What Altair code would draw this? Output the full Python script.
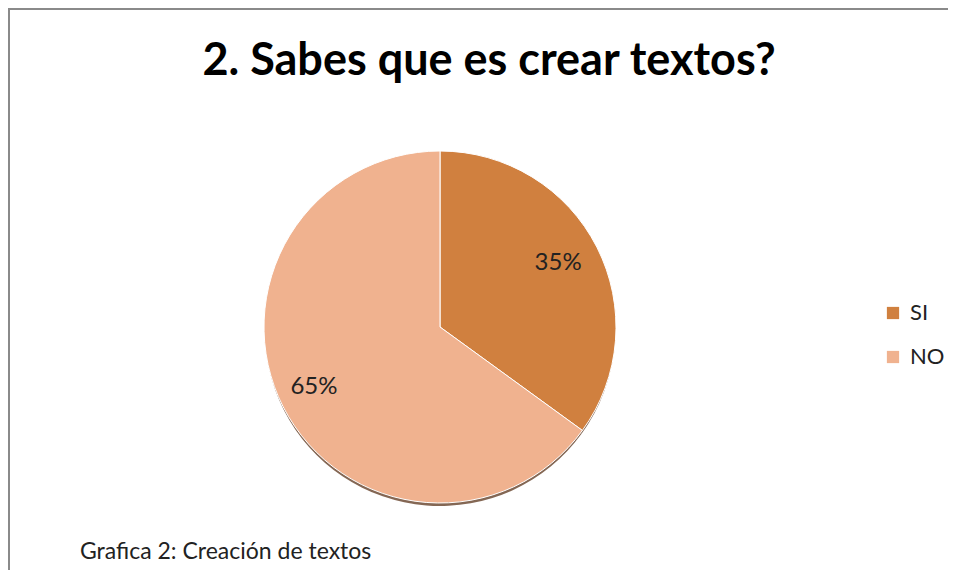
import altair as alt
import pandas as pd

categories = ["SI", "NO"]
values = [35, 65]
colors = ["#D0803F", "#F0B28F"]
title_text = "2. Sabes que es crear textos?"
caption_text = "Grafica 2: Creación de textos"

total = sum(values)
df = pd.DataFrame({
    "cat": categories,
    "val": values,
    "order": list(range(len(categories))),
    "label": [f"{round(v * 100 / total)}%" for v in values],
})

W, H = 940, 562
CX, CY, R = 432, 319, 176

color_scale = alt.Scale(domain=categories, range=colors)

base = alt.Chart(df).encode(
    theta=alt.Theta("val:Q", stack=True),
    order=alt.Order("order:Q"),
)

shadow = base.mark_arc(radius=R - 1, color="#6E4C36", opacity=0.85).encode(
    x=alt.value(CX), y=alt.value(CY + 4)
)

pie = base.mark_arc(radius=R, stroke="white", strokeWidth=1).encode(
    x=alt.value(CX), y=alt.value(CY),
    color=alt.Color(
        "cat:N", scale=color_scale, sort=categories,
        legend=alt.Legend(
            title=None, orient="none", legendX=874, legendY=294,
            symbolType="square", symbolSize=150, symbolStrokeWidth=0,
            labelFont="Lato", labelFontSize=22, labelColor="#222222",
            rowPadding=22, labelOffset=6,
        ),
    ),
)

labels = base.mark_text(radius=137, dx=-4, dy=-2, font="Lato", fontSize=24, color="#222222").encode(
    x=alt.value(CX), y=alt.value(CY), text="label:N"
)

tdf = pd.DataFrame({"t": [title_text]})
title = alt.Chart(tdf).mark_text(
    font="Lato", fontSize=45, fontWeight="bold", color="#000000",
    align="center", baseline="alphabetic",
).encode(x=alt.value(481), y=alt.value(67), text="t:N")

cdf = pd.DataFrame({"t": [caption_text]})
caption = alt.Chart(cdf).mark_text(
    font="Lato", fontSize=23, color="#222222",
    align="left", baseline="alphabetic",
).encode(x=alt.value(72), y=alt.value(551), text="t:N")

frame_top = alt.Chart(tdf).mark_rule(color="#8A8A8A", strokeWidth=2).encode(
    x=alt.value(0), x2=alt.value(W), y=alt.value(1)
)
frame_left = alt.Chart(tdf).mark_rule(color="#8A8A8A", strokeWidth=2).encode(
    x=alt.value(1), y=alt.value(0), y2=alt.value(H)
)

chart = alt.layer(frame_top, frame_left, shadow, pie, labels, title, caption).properties(
    width=W, height=H, autosize=alt.AutoSizeParams(type="none"), padding=0,
).configure_view(stroke=None)

chart.save("out.html", embed_options={"renderer": "svg", "actions": False})
